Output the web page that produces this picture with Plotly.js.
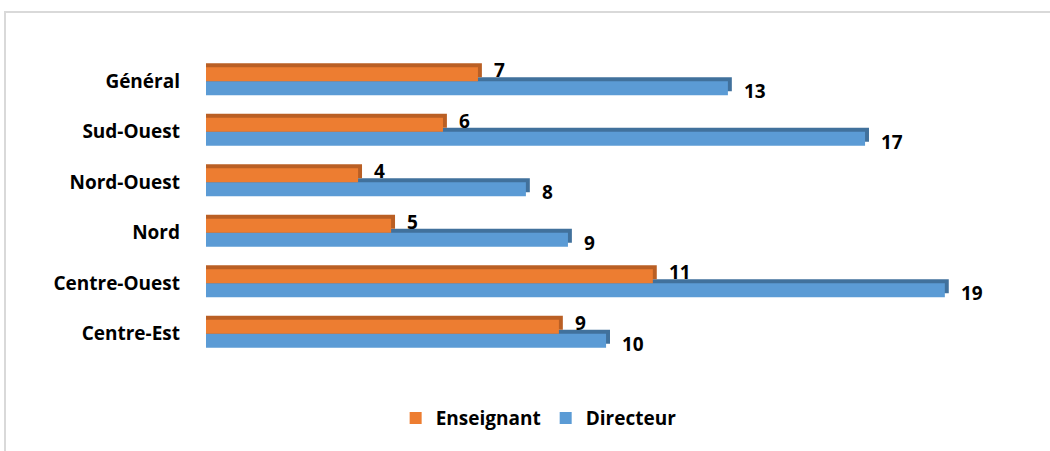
<!DOCTYPE html>
<html>
<head>
<meta charset="utf-8">
<script src="https://cdn.plot.ly/plotly-3.0.1.min.js"></script>
<style>
  html, body { margin: 0; padding: 0; background: #fff; }
  #wrap { position: relative; width: 1050px; height: 451px; overflow: hidden; }
  #chart { position: absolute; left: 0; top: 0; width: 1050px; height: 451px; }
  #frame { position: absolute; left: 4px; top: 11px; width: 1100px; height: 500px;
           border: 2px solid #d9d9d9; box-sizing: border-box; pointer-events: none; }
</style>
</head>
<body>
<div id="wrap">
  <div id="chart"></div>
  <div id="frame"></div>
</div>
<script>
// Categories, bottom to top
const categories = ["Centre-Est", "Centre-Ouest", "Nord", "Nord-Ouest", "Sud-Ouest", "Général"];
// Bar lengths
const enseignant = [8.98, 11.37, 4.71, 3.87, 6.03, 6.92];
const directeur  = [10.18, 18.8, 9.21, 8.14, 16.77, 13.28];
// Data labels as printed
const enseignantLabels = ["9", "11", "5", "4", "6", "7"];
const directeurLabels  = ["10", "19", "9", "8", "17", "13"];

const ORANGE = "#ED7D31", ORANGE_DARK = "#BA5F24";
const BLUE = "#5B9BD5", BLUE_DARK = "#41719C";
const W = 0.277;      // bar thickness (category units)
const DY = 0.08;      // 3D depth along category axis
const DX = 0.1;       // 3D depth along value axis

const idx = categories.map((_, i) => i);

function depth(vals, off, color) {
  return { type: "bar", orientation: "h", y: idx, x: vals.map(v => v + DX),
    offset: off + DY, width: W, marker: { color: color, line: { width: 0 } },
    showlegend: false, hoverinfo: "skip" };
}
function front(vals, off, color, name, rank) {
  return { type: "bar", orientation: "h", y: idx, x: vals, name: name,
    offset: off, width: W, legendrank: rank,
    marker: { color: color, line: { width: 0 } } };
}

const traces = [
  depth(directeur, -W, BLUE_DARK),
  front(directeur, -W, BLUE, "Directeur", 2),
  depth(enseignant, 0, ORANGE_DARK),
  front(enseignant, 0, ORANGE, "Enseignant", 1)
];

const FAMILY = "'Open Sans', 'Noto Sans', sans-serif";
const labelFont = { family: FAMILY, size: 19, color: "#000", weight: "bold" };
const annotations = [];
idx.forEach(i => {
  annotations.push({ x: enseignant[i], y: i + W / 2, xref: "x", yref: "y", text: enseignantLabels[i],
    showarrow: false, xanchor: "left", yanchor: "middle", xshift: 14, yshift: 4, font: labelFont });
  annotations.push({ x: directeur[i], y: i - W / 2, xref: "x", yref: "y", text: directeurLabels[i],
    showarrow: false, xanchor: "left", yanchor: "middle", xshift: 14, yshift: -3, font: labelFont });
});

const layout = {
  width: 1050, height: 451,
  margin: { l: 206, r: 58, t: 56, b: 92 },
  paper_bgcolor: "#fff", plot_bgcolor: "#fff",
  barmode: "overlay",
  showlegend: true,
  legend: { orientation: "h", xref: "container", yref: "container", x: 0.513, y: 0.073,
    xanchor: "center", yanchor: "middle", font: { family: FAMILY, size: 19, color: "#000", weight: "bold" },
    itemclick: false },
  xaxis: { range: [0, 20], showgrid: false, zeroline: false, showticklabels: false, showline: false, ticks: "" },
  yaxis: { range: [-0.5, 5.5], tickmode: "array", tickvals: idx, ticktext: categories,
    showgrid: false, zeroline: false, showline: false, ticks: "", ticklabelstandoff: 25,
    tickfont: { family: FAMILY, size: 19, color: "#000", weight: "bold" } },
  annotations: annotations
};

Plotly.newPlot("chart", traces, layout, { displayModeBar: false, staticPlot: true });
</script>
</body>
</html>
